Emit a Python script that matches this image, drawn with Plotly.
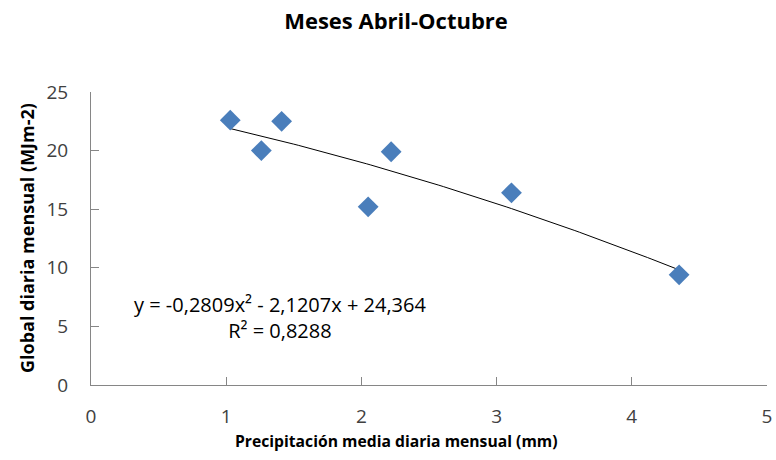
import numpy as np
import plotly.graph_objects as go

# Data
precip = [1.03, 1.26, 1.41, 2.05, 2.22, 3.11, 4.35]
radiation = [22.6, 20.0, 22.5, 15.2, 19.9, 16.4, 9.4]
trend_coefs = [-0.2809, -2.1207, 24.364]  # a, b, c
equation_text = "y = -0,2809x² - 2,1207x + 24,364<br>R² = 0,8288"
x_ticks = [0, 1, 2, 3, 4, 5]
y_ticks = [0, 5, 10, 15, 20, 25]

FONT = "Open Sans"
W, H = 776, 460
L, R, T, B = 91, 9, 92, 75
PW, PH = W - L - R, H - T - B

xt = np.linspace(min(precip), max(precip), 100)
yt = np.polyval(trend_coefs, xt)

fig = go.Figure()
fig.add_trace(go.Scatter(x=xt, y=yt, mode="lines",
                         line=dict(color="black", width=1), hoverinfo="skip"))
fig.add_trace(go.Scatter(x=precip, y=radiation, mode="markers",
                         marker=dict(symbol="diamond", size=16, color="#4A7EBB",
                                     line=dict(width=0))))

fig.add_annotation(x=1.40, y=5.8, xref="x", yref="y", text=equation_text,
                   showarrow=False, align="center",
                   font=dict(family=FONT, size=20, color="black"))

# axis titles
fig.add_annotation(x=(396 - L) / PW, y=(H - B - 441) / PH, xref="paper", yref="paper",
                   text="<b>Precipitación media diaria mensual (mm)</b>", showarrow=False,
                   xanchor="center", yanchor="middle",
                   font=dict(family=FONT, size=15.7, color="black"))
fig.add_annotation(x=(27 - L) / PW, y=(H - B - 238) / PH,
                   xref="paper", yref="paper",
                   text="<b>Global diaria mensual (MJm-2)</b>", showarrow=False,
                   textangle=-90, xanchor="center", yanchor="middle",
                   font=dict(family=FONT, size=18, color="black"))

fig.update_layout(
    width=W, height=H,
    margin=dict(l=L, r=R, t=T, b=B),
    paper_bgcolor="white", plot_bgcolor="white",
    showlegend=False,
    title=dict(text="<b>Meses Abril-Octubre</b>", x=396 / W, xanchor="center",
               xref="container", y=1 - 21 / H, yanchor="middle",
               font=dict(family=FONT, size=22, color="black")),
    font=dict(family=FONT, size=19, color="#404040"),
)
fig.update_xaxes(range=[0, 5], tickvals=x_ticks, showgrid=False, zeroline=False,
                 showline=True, linecolor="#868686", linewidth=1,
                 ticks="inside", ticklen=8, tickcolor="#868686",
                 ticklabelstandoff=14, ticklabeloverflow="allow",
                 automargin=False,
                 tickfont=dict(family=FONT, size=19, color="#404040"))
fig.update_yaxes(range=[0, 25], tickvals=y_ticks, showgrid=False, zeroline=False,
                 showline=True, linecolor="#868686", linewidth=1,
                 ticks="inside", ticklen=8, tickcolor="#868686",
                 ticklabelstandoff=18, ticklabeloverflow="allow",
                 automargin=False,
                 tickfont=dict(family=FONT, size=19, color="#404040"))

fig.write_html("out.html", config={"displayModeBar": False},
               post_script="document.body.style.margin='0';")
